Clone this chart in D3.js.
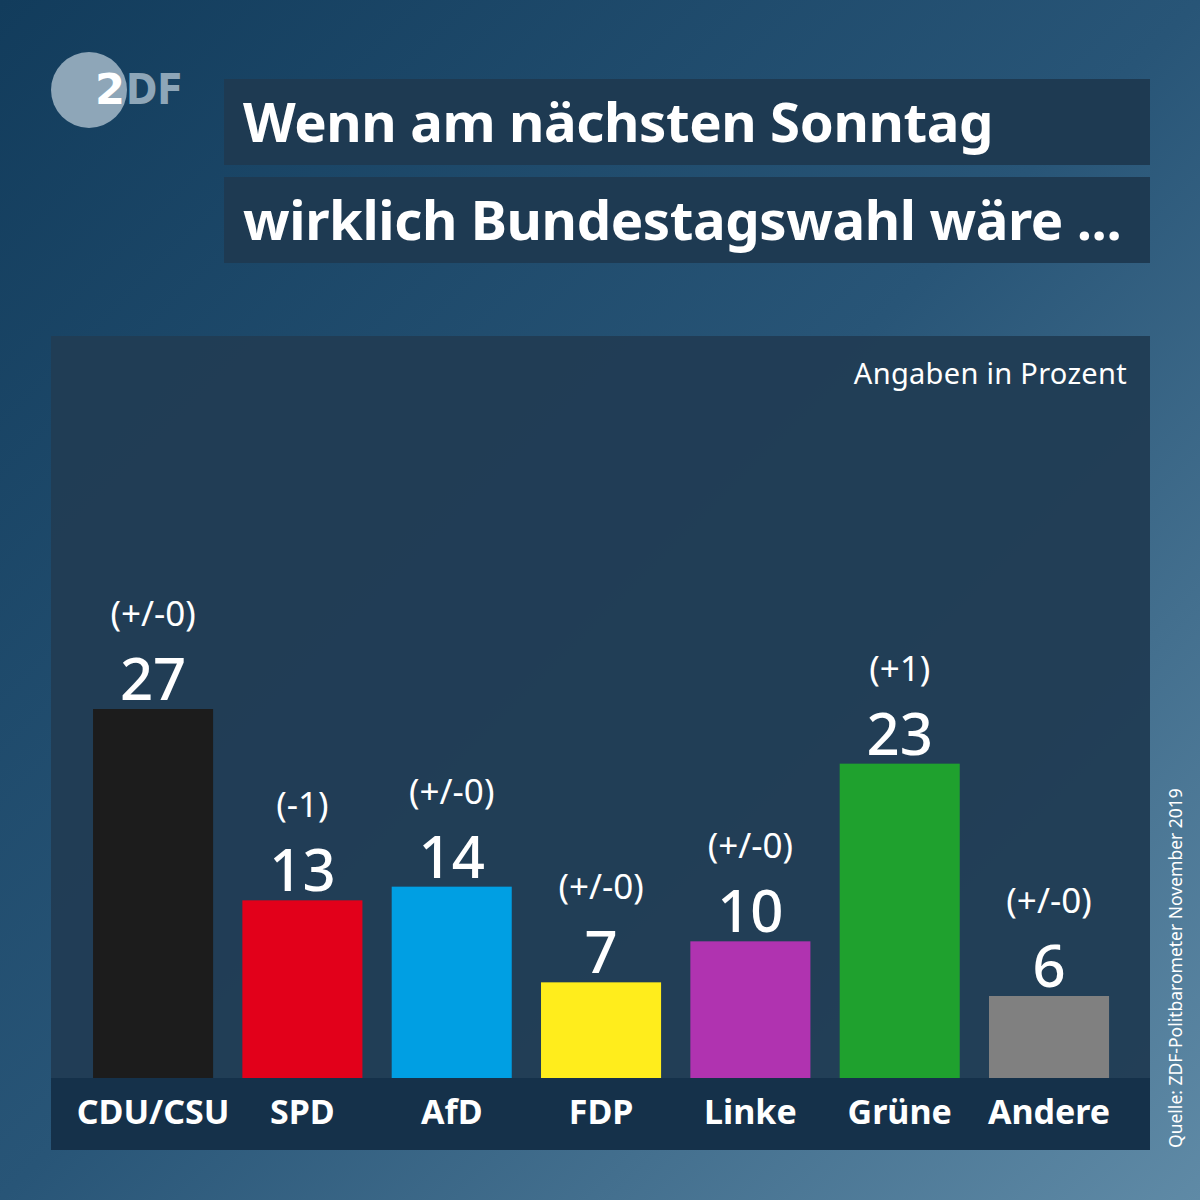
<!DOCTYPE html>
<html>
<head>
<meta charset="utf-8">
<script src="https://cdn.jsdelivr.net/npm/d3@7/dist/d3.min.js"></script>
<style>
  html, body { margin: 0; padding: 0; background: #1d4a6a; }
  svg { display: block; }
  text { font-family: "Noto Sans", "Open Sans", sans-serif; fill: #ffffff; }
</style>
</head>
<body>
<script>
// ---- data ----
const parties = ["CDU/CSU", "SPD", "AfD", "FDP", "Linke", "Grüne", "Andere"];
const values = [27, 13, 14, 7, 10, 23, 6];
const changes = ["(+/-0)", "(-1)", "(+/-0)", "(+/-0)", "(+/-0)", "(+1)", "(+/-0)"];
const colors = ["#1c1c1c", "#e2001a", "#009fe3", "#ffed1c", "#b033b0", "#1fa12e", "#808080"];
const titleLines = ["Wenn am nächsten Sonntag", "wirklich Bundestagswahl wäre ..."];
const unitNote = "Angaben in Prozent";
const sourceNote = "Quelle: ZDF-Politbarometer November 2019";

const W = 1200, H = 1200;
const svg = d3.select("body").append("svg").attr("width", W).attr("height", H);

// background gradient
const defs = svg.append("defs");
const bg = defs.append("linearGradient").attr("id", "bg")
  .attr("x1", "0%").attr("y1", "0%").attr("x2", "100%").attr("y2", "100%");
bg.append("stop").attr("offset", "0%").attr("stop-color", "#123c5c");
bg.append("stop").attr("offset", "50%").attr("stop-color", "#285577");
bg.append("stop").attr("offset", "100%").attr("stop-color", "#5f8aa6");
svg.append("rect").attr("width", W).attr("height", H).attr("fill", "url(#bg)");

// logo
const logo = svg.append("g");
logo.append("circle").attr("cx", 89).attr("cy", 90).attr("r", 38).attr("fill", "#8ea6b8");
logo.append("text").attr("x", 95).attr("y", 104)
  .style("font-family", "'DejaVu Sans', sans-serif").style("font-weight", 700)
  .style("font-size", "43px").attr("textLength", 30).attr("lengthAdjust", "spacingAndGlyphs")
  .text("2");
logo.append("text").attr("x", 126).attr("y", 104)
  .style("font-family", "'DejaVu Sans', sans-serif").style("font-weight", 700)
  .style("font-size", "43px").style("fill", "#8ea6b8")
  .attr("textLength", 57).attr("lengthAdjust", "spacingAndGlyphs")
  .text("DF");

// title boxes
const titleTop = [79, 177];
titleLines.forEach((t, i) => {
  svg.append("rect").attr("x", 224).attr("y", titleTop[i]).attr("width", 926).attr("height", 86)
    .attr("fill", "#1e3a52");
  svg.append("text").attr("x", 243).attr("y", titleTop[i] + 63)
    .style("font-weight", 700).style("font-size", "54.5px").style("letter-spacing", "-0.4px")
    .text(t);
});

// chart panel
const panel = { x: 51, y: 336, w: 1099, h: 814 };
svg.append("rect").attr("x", panel.x).attr("y", panel.y).attr("width", panel.w).attr("height", panel.h)
  .attr("fill", "#213d55").attr("opacity", 0.97);
const baseY = 1078;
svg.append("rect").attr("x", panel.x).attr("y", baseY).attr("width", panel.w).attr("height", panel.y + panel.h - baseY)
  .attr("fill", "#15314a");

svg.append("text").attr("x", 1127).attr("y", 384).attr("text-anchor", "end")
  .style("font-size", "29px").style("letter-spacing", "0.3px").text(unitNote);

// scales
const x = d3.scaleBand().domain(parties).range([78.4, 1123.7]).paddingInner(0.196).paddingOuter(0.098);
const y = d3.scaleLinear().domain([0, 27]).range([baseY, 709]);

const g = svg.append("g");
const data = parties.map((p, i) => ({ p, v: values[i], c: changes[i], col: colors[i] }));

g.selectAll("rect.bar").data(data).join("rect").attr("class", "bar")
  .attr("x", d => x(d.p)).attr("width", x.bandwidth())
  .attr("y", d => y(d.v)).attr("height", d => baseY - y(d.v))
  .attr("fill", d => d.col);

g.selectAll("text.val").data(data).join("text").attr("class", "val")
  .attr("x", d => x(d.p) + x.bandwidth() / 2).attr("y", d => y(d.v) - 9)
  .attr("text-anchor", "middle").style("font-size", "58px").style("font-weight", 500)
  .text(d => d.v);

g.selectAll("text.chg").data(data).join("text").attr("class", "chg")
  .attr("x", d => x(d.p) + x.bandwidth() / 2).attr("y", d => y(d.v) - 83)
  .attr("text-anchor", "middle").style("font-size", "35px").style("font-weight", 400)
  .text(d => d.c);

// category axis
const xAxis = d3.axisBottom(x).tickSize(0).tickPadding(0);
const ax = svg.append("g").attr("transform", `translate(0,${baseY})`).call(xAxis);
ax.select(".domain").remove();
ax.selectAll("text").attr("y", 46).attr("dy", 0)
  .style("font-family", "'Noto Sans', sans-serif").style("font-size", "34px").style("font-weight", 700)
  .style("fill", "#ffffff");

// source
svg.append("text").attr("transform", "translate(1182,1148) rotate(-90)")
  .style("font-size", "17.5px").style("fill", "#ffffff").text(sourceNote);
</script>
</body>
</html>
